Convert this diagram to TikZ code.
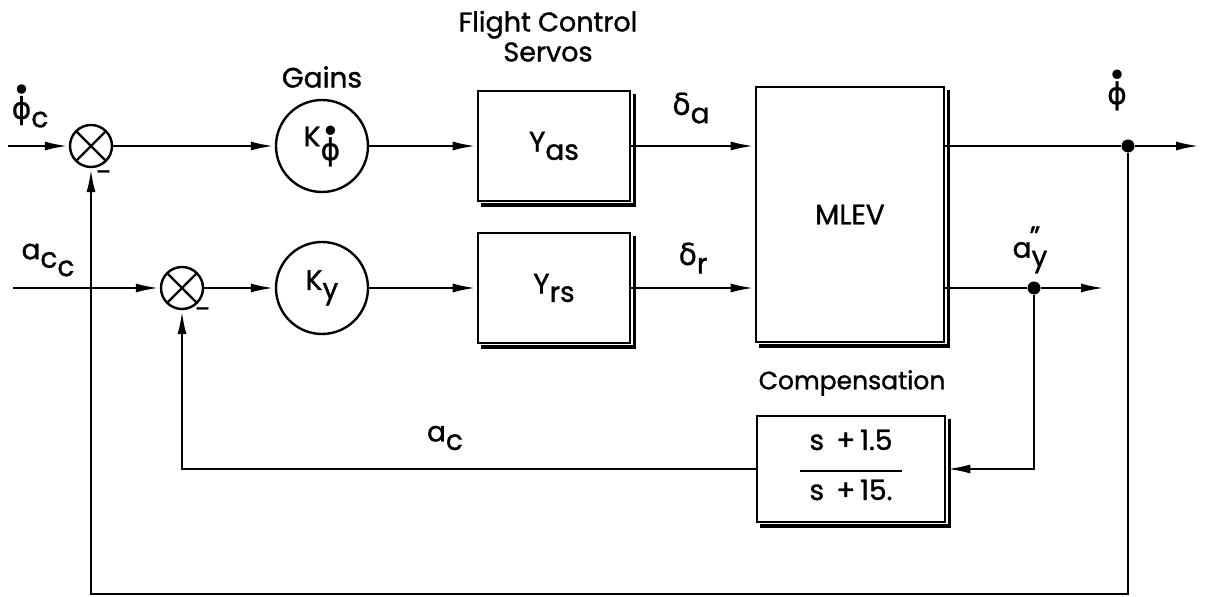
\documentclass[tikz,border=0pt]{standalone}
\usepackage{fontspec}
\setmainfont{Poppins}[FakeBold=1.2]
\newfontfamily\gk{DejaVu Sans}[FakeBold=0.6]
\usetikzlibrary{arrows.meta}
\newcommand\phd{\vbox{\offinterlineskip\halign{\hfil##\hfil\cr
  {\gk\fontsize{6}{6}\selectfont ●}\cr\noalign{\kern1.2pt}{\gk\fontsize{15}{15}\selectfont ϕ}\cr}}}
\newcommand\gd{{\gk\fontsize{15}{15}\selectfont δ}}
\newcommand\lo[1]{\raisebox{-0.55ex}{#1}}
\tikzset{
  ln/.style={line width=1.4pt},
  arr/.style={ln,-{Latex[length=12pt,width=4.5pt]}},
  blk/.style={draw,line width=1.3pt,inner sep=0pt},
  sumj/.style={circle,draw,line width=1.2pt,minimum size=21pt,inner sep=0pt,
    path picture={\draw[line width=1.2pt] (path picture bounding box.north west) -- (path picture bounding box.south east)
      (path picture bounding box.north east) -- (path picture bounding box.south west);}},
  gain/.style={circle,draw,line width=1.2pt,minimum size=46pt,inner sep=0pt},
  dotj/.style={circle,fill,inner sep=0pt,minimum size=6.5pt},
  lbl/.style={inner sep=0pt,font=\fontsize{14}{16}\selectfont},
  shadow/.style={line width=1.8pt}
}
\begin{document}
\begin{tikzpicture}[x=0.5pt,y=-0.5pt,font=\fontsize{14}{16}\selectfont]
\useasboundingbox (0,0) rectangle (1206,597);
% blocks
\node[sumj] (s1) at (91,146) {};
\node[sumj] (s2) at (182,288) {};
\node[gain] (k1) at (322,146) {K\raisebox{-0.9ex}{\phd}};
\node[gain] (k2) at (322,288) {K\lo{y}};
\node[blk,minimum width=76pt,minimum height=55pt] (ya) at (554,146) {Y\lo{as}};
\node[blk,minimum width=76pt,minimum height=55pt] (yr) at (554,288) {Y\lo{rs}};
\node[blk,minimum width=94pt,minimum height=127.5pt] (ml) at (850,214.5) {MLEV};
\node[blk,minimum width=94pt,minimum height=53pt] (cp) at (851,469)
  {\fontsize{14}{15}\selectfont\begin{tabular}{@{}c@{}}s\ \,+\,1.5\\[-4pt]\rule{51pt}{1.1pt}\\[-1pt]s\ \,+\,15.\end{tabular}};
% shadows
\foreach \b in {ya,yr,ml,cp}{
  \draw[shadow] ([shift={(1.5pt,-2pt)}]\b.north east) -- ([shift={(1.5pt,-1.5pt)}]\b.south east)
    -- ([shift={(2pt,-1.5pt)}]\b.south west);
}
% junction dots and coordinates
\node[dotj] (o1) at (1128,146) {};
\node[dotj] (o2) at (1034,288) {};
\coordinate (in1) at (8,146);
\coordinate (in2) at (13,288);
\coordinate (out1) at (1200,146);
\coordinate (out2) at (1105,288);
\coordinate (fb) at (91,594);
% connectors
\draw[arr] (in1) -- (s1);
\draw[arr] (s1) -- (k1);
\draw[arr] (k1) -- (ya);
\draw[arr] (ya.east) -- (ya.east -| ml.west);
\draw[ln] (ml.east |- o1) -- (o1);
\draw[arr] (o1) -- (out1);
\draw[arr] (in2) -- (s2);
\draw[arr] (s2) -- (k2);
\draw[arr] (k2) -- (yr);
\draw[arr] (yr.east) -- (yr.east -| ml.west);
\draw[ln] (ml.east |- o2) -- (o2);
\draw[arr] (o2) -- (out2);
\draw[arr] (o2) |- (cp.east);
\draw[arr] (cp.west) -| (s2.south);
\draw[arr] (o1) |- (fb) -- (s1.south);
% labels
\node[lbl] (tfcs) at (548,40) {\fontsize{13.5}{16}\selectfont\begin{tabular}{@{}c@{}}Flight Control\\[-1pt]Servos\end{tabular}};
\node[lbl] (tgain) at (322,77) {Gains};
\node[lbl] (tcomp) at (852,383) {\fontsize{12.5}{15}\selectfont Compensation};
\node[lbl] (tphic) at (30,106) {\phd\lo{c}};
\node[lbl] (tacc) at (48,260) {a\lo{c\lo{c}}};
\node[lbl] (tda) at (691,108) {\gd\lo{a}};
\node[lbl] (tdr) at (693,258) {\gd\lo{r}};
\node[lbl] (tphi) at (1117,90) {\phd};
\node[lbl] (tay) at (1030,250) {a\makebox[0pt][l]{\raisebox{0.75ex}{\kern-1pt''}}\lo{y}};
\node[lbl] (tac) at (445,438) {a\lo{c}};
\node[lbl] (tm1) at (104,176) {-};
\node[lbl] (tm2) at (203,313) {-};
\end{tikzpicture}
\end{document}
